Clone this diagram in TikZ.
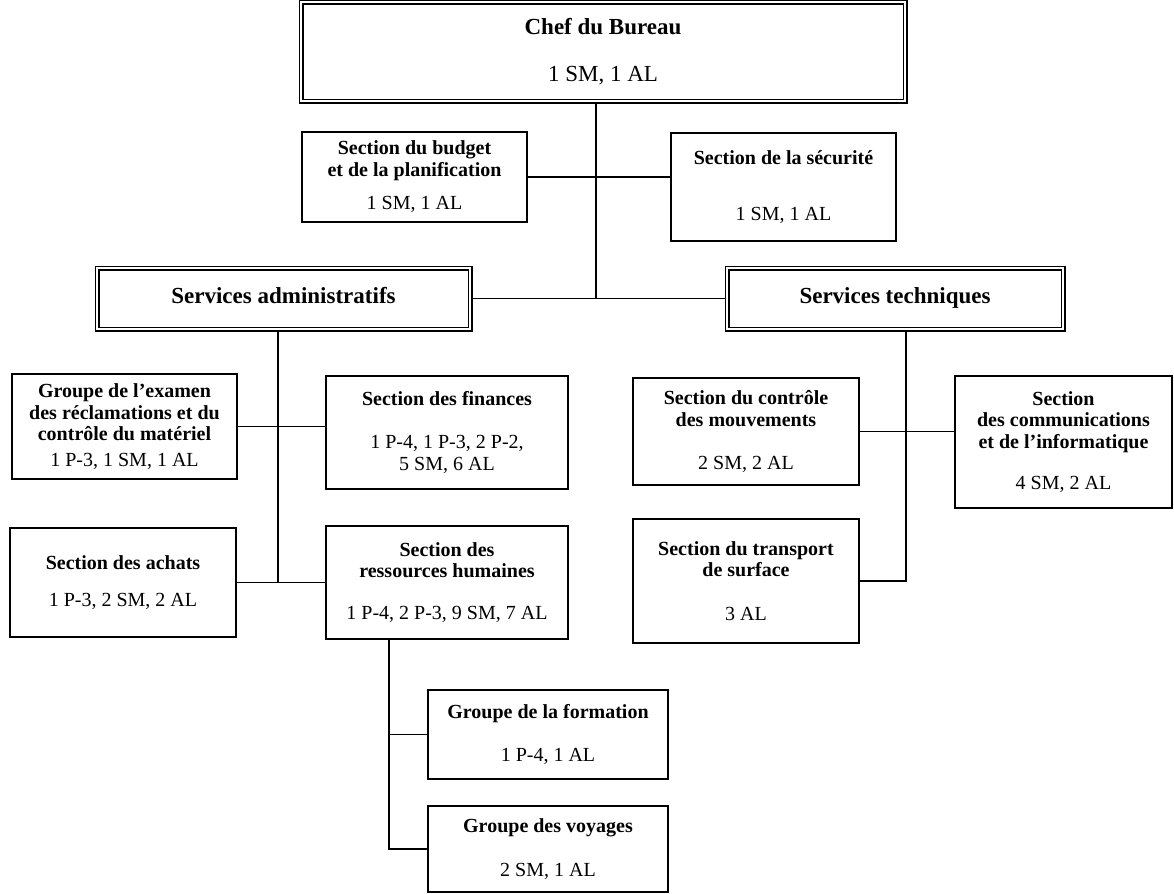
\documentclass[tikz,border=0pt]{standalone}
\usepackage{fontspec}
\setmainfont{Liberation Serif}
\usetikzlibrary{calc}
\tikzset{
  box/.style={
    rectangle,
    draw=black,
    line width=0.9pt,
    fill=white,
    align=center,
    inner sep=0pt,
    font=\fontsize{10}{10.75}\selectfont
  },
  headbox/.style={
    box,
    double,
    line width=0.6pt,
    double distance=1.3pt,
    font=\fontsize{11.5}{13}\selectfont
  },
  sz/.style 2 args={minimum width=#1*0.5pt, minimum height=#2*0.5pt}
}
\tikzstyle{link} = [line width=0.9pt]
\def\hd#1{\textbf{#1}}

\begin{document}
\begin{tikzpicture}[x=0.5pt, y=-0.5pt]
    \useasboundingbox (0,0) rectangle (1174,894);
    \node[headbox, sz={604}{99}] (chef) at (603,51.5) {\hd{Chef du Bureau}\\[10.5pt]1 SM, 1 AL};
    \node[box, sz={225}{90}] (budget) at (414.5,177) {\hd{Section du budget}\\\hd{et de la planification}\\[6pt]1 SM, 1 AL};
    \node[box, sz={225}{108}] (secu) at (783.5,187) {\hd{Section de la sécurité}\\[17.5pt]1 SM, 1 AL};
    \node[headbox, sz={373}{61}, text depth=3pt] (admin) at (283.5,298.5) {\hd{Services administratifs}};
    \node[headbox, sz={336}{61}, text depth=3pt] (tech) at (895,298.5) {\hd{Services techniques}};
    \node[box, sz={225}{105}] (examen) at (124.5,426.5) {\hd{Groupe de l’examen}\\\hd{des réclamations et du}\\\hd{contrôle du matériel}\\[2pt]1 P-3, 1 SM, 1 AL};
    \node[box, sz={242}{113}] (finances) at (447,432.5) {\hd{Section des finances}\\[10.75pt]1 P-4, 1 P-3, 2 P-2,\\5 SM, 6 AL};
    \node[box, sz={226}{109}] (achats) at (123,582.5) {\hd{Section des achats}\\[8pt]1 P-3, 2 SM, 2 AL};
    \node[box, sz={242}{113}] (rh) at (447,582.5) {\hd{Section des}\\\hd{ressources humaines}\\[10pt]1 P-4, 2 P-3, 9 SM, 7 AL};
    \node[box, sz={240}{89}] (formation) at (548,734.5) {\hd{Groupe de la formation}\\[11pt]1 P-4, 1 AL};
    \node[box, sz={240}{86}] (voyages) at (548,849) {\hd{Groupe des voyages}\\[11pt]2 SM, 1 AL};
    \node[box, sz={226}{107}] (mouvements) at (746,431.5) {\hd{Section du contrôle}\\\hd{des mouvements}\\[11pt]2 SM, 2 AL};
    \node[box, sz={226}{124}] (transport) at (746,581) {\hd{Section du transport}\\\hd{de surface}\\[11pt]3 AL};
    \node[box, sz={217}{132}] (info) at (1063.5,442) {\hd{Section}\\\hd{des communications}\\\hd{et de l’informatique}\\[10pt]4 SM, 2 AL};
    \coordinate (chefline) at (596,0);
    \coordinate (adminline) at (278,0);
    \coordinate (techline) at (906,0);
    \coordinate (rhline) at (389,0);
    \draw[link] (chefline |- chef.south) -- (chefline |- admin.east);
    \draw[link] (budget.east) -- (secu.west |- budget.east);
    \draw[link] (admin.east) -- (tech.west);
    \draw[link] (adminline |- admin.south) -- (adminline |- achats.east);
    \draw[link] (examen.east) -- (examen.east -| finances.west);
    \draw[link] (achats.east) -- (achats.east -| rh.west);
    \draw[link] (rhline |- rh.south) -- (rhline |- voyages.west) -- (voyages.west);
    \draw[link] (rhline |- formation.west) -- (formation.west);
    \draw[link] (techline |- tech.south) -- (techline |- transport.east) -- (transport.east);
    \draw[link] (mouvements.east) -- (mouvements.east -| info.west);
\end{tikzpicture}
\end{document}
